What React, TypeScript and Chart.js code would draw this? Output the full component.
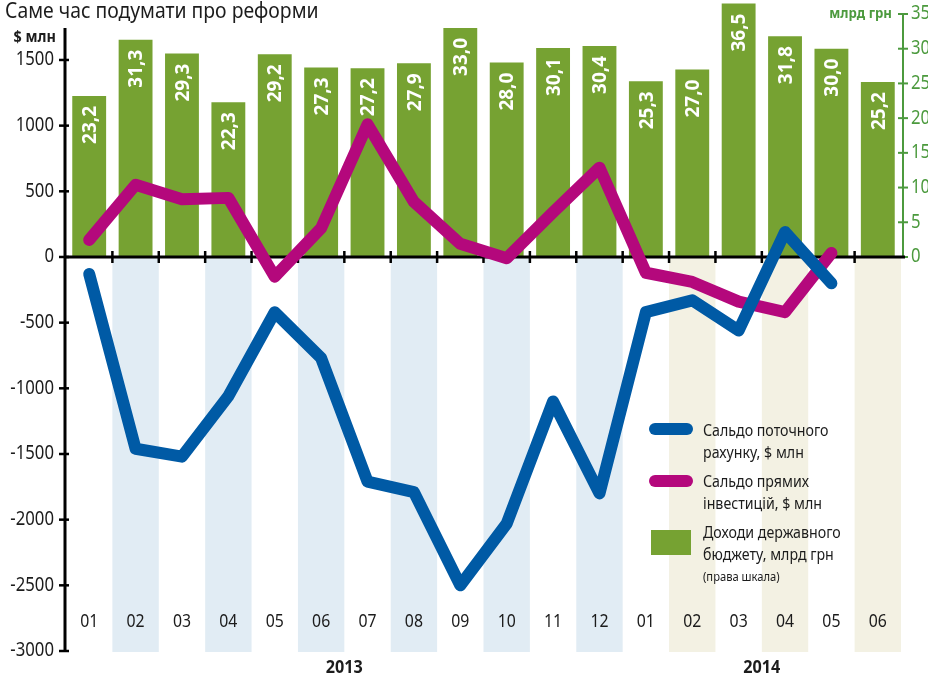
import React, { useEffect, useRef } from "react";
import { Chart, registerables } from "chart.js";
Chart.register(...registerables);

const months = ["01","02","03","04","05","06","07","08","09","10","11","12","01","02","03","04","05","06"];
const years = ["2013", "2014"];
const yearFirstIndex = [0, 12];
const yearLastIndex = [11, 17];
const budgetRevenue = [23.2, 31.3, 29.3, 22.3, 29.2, 27.3, 27.2, 27.9, 33.0, 28.0, 30.1, 30.4, 25.3, 27.0, 36.5, 31.8, 30.0, 25.2];
const currentAccount = [-130, -1460, -1520, -1060, -420, -770, -1710, -1790, -2500, -2030, -1100, -1800, -420, -330, -560, 190, -200, null];
const fdiBalance = [130, 550, 440, 450, -150, 220, 1010, 420, 100, -10, 340, 680, -120, -190, -340, -420, 30, null];
const leftTicks = [-3000, -2500, -2000, -1500, -1000, -500, 0, 500, 1000, 1500];
const rightTicks = [0, 5, 10, 15, 20, 25, 30, 35];
const blueBands = [1, 3, 5, 7, 9, 11];
const beigeBands = [13, 15, 17];

const LEFT_MIN = -3000;
const LEFT_MAX = 1850;
const RIGHT_MAX = 35;
const RIGHT_MIN = (LEFT_MIN * RIGHT_MAX) / LEFT_MAX;

const GREEN = "#76a232";
const BLUE = "#005aa5";
const MAGENTA = "#b4087c";
const AXIS_GREEN = "#4c9a3e";
const INK = "#1c1c1c";
const FONT = '"Noto Sans", "Open Sans", sans-serif';

function txt(ctx: CanvasRenderingContext2D, s: string, x: number, y: number, font: string, color: string, align: CanvasTextAlign, sx = 0.88) {
  ctx.save();
  ctx.font = font;
  ctx.fillStyle = color;
  ctx.textAlign = align;
  ctx.textBaseline = "middle";
  ctx.translate(x, y);
  ctx.scale(sx, 1);
  ctx.fillText(s, 0, 0);
  ctx.restore();
}

const decorPlugin = {
  id: "decor",
  beforeDatasetsDraw(chart: any) {
    const ctx: CanvasRenderingContext2D = chart.ctx;
    const x = chart.scales.x;
    const y = chart.scales.y;
    const area = chart.chartArea;
    const step = (area.right - area.left) / months.length;
    const y0 = y.getPixelForValue(0);
    ctx.save();
    const band = (idx: number[], color: string) => {
      ctx.fillStyle = color;
      idx.forEach((i) => {
        const cx = x.getPixelForValue(i);
        ctx.fillRect(cx - step / 2, y0, step, area.bottom + 1 - y0);
      });
    };
    band(blueBands, "#e1ecf4");
    band(beigeBands, "#f3f1e3");
    ctx.restore();
  },
  afterDatasetDraw(chart: any, args: any) {
    if (args.index !== 0) return;
    const ctx: CanvasRenderingContext2D = chart.ctx;
    const x = chart.scales.x;
    const y = chart.scales.y;
    const y1 = chart.scales.y1;
    const area = chart.chartArea;
    const step = (area.right - area.left) / months.length;
    const y0 = y.getPixelForValue(0);
    // bar value labels
    const meta = chart.getDatasetMeta(0);
    meta.data.forEach((bar: any, i: number) => {
      const v = budgetRevenue[i];
      const s = v.toFixed(1).replace(".", ",");
      ctx.save();
      ctx.translate(bar.x, bar.y + 10);
      ctx.rotate(-Math.PI / 2);
      ctx.font = `bold 20px ${FONT}`;
      ctx.fillStyle = "#ffffff";
      ctx.textAlign = "right";
      ctx.textBaseline = "middle";
      ctx.scale(0.95, 1);
      ctx.fillText(s, 0, 1);
      ctx.restore();
    });
    ctx.save();
    // left axis
    const lx = area.left - 1;
    ctx.strokeStyle = "#000";
    ctx.lineWidth = 3;
    ctx.beginPath();
    ctx.moveTo(lx, 28);
    ctx.lineTo(lx, area.bottom + 1);
    ctx.stroke();
    ctx.lineWidth = 2.5;
    leftTicks.forEach((t) => {
      const py = y.getPixelForValue(t);
      ctx.beginPath();
      ctx.moveTo(lx - 6, py);
      ctx.lineTo(lx + 4, py);
      ctx.stroke();
    });
    // right axis
    const rx = area.right + 2;
    ctx.strokeStyle = AXIS_GREEN;
    ctx.lineWidth = 2;
    ctx.beginPath();
    ctx.moveTo(rx, y1.getPixelForValue(RIGHT_MAX));
    ctx.lineTo(rx, y0);
    ctx.stroke();
    rightTicks.forEach((t) => {
      const py = y1.getPixelForValue(t);
      ctx.beginPath();
      ctx.moveTo(rx - 5, py);
      ctx.lineTo(rx + 5, py);
      ctx.stroke();
    });
    // zero line
    ctx.strokeStyle = "#000";
    ctx.lineWidth = 3;
    ctx.beginPath();
    ctx.moveTo(lx, y0);
    ctx.lineTo(rx + 2, y0);
    ctx.stroke();
    ctx.lineWidth = 2.5;
    for (let i = 1; i < months.length; i++) {
      const bx = x.getPixelForValue(i) - step / 2;
      ctx.beginPath();
      ctx.moveTo(bx, y0 - 6);
      ctx.lineTo(bx, y0 + 6);
      ctx.stroke();
    }
    ctx.restore();
  },
  afterDraw(chart: any) {
    const ctx: CanvasRenderingContext2D = chart.ctx;
    const x = chart.scales.x;
    const y = chart.scales.y;
    const y1 = chart.scales.y1;
    // title
    txt(ctx, "Саме час подумати про реформи", 5, 12, `22px ${FONT}`, INK, "left", 0.88);
    txt(ctx, "$ млн", 56, 37, `bold 16px ${FONT}`, INK, "right", 0.9);
    txt(ctx, "млрд грн", 892, 14, `bold 15px ${FONT}`, AXIS_GREEN, "right", 0.88);
    leftTicks.forEach((t) => {
      txt(ctx, String(t), 54, y.getPixelForValue(t), `19px ${FONT}`, INK, "right", 0.88);
    });
    rightTicks.forEach((t) => {
      txt(ctx, String(t), 911, y1.getPixelForValue(t), `19px ${FONT}`, AXIS_GREEN, "left", 0.88);
    });
    months.forEach((m, i) => {
      txt(ctx, m, x.getPixelForValue(i), 622, `18px ${FONT}`, INK, "center", 0.88);
    });
    years.forEach((yr, k) => {
      const cx = (x.getPixelForValue(yearFirstIndex[k]) + x.getPixelForValue(yearLastIndex[k])) / 2;
      txt(ctx, yr, cx, 668, `bold 18px ${FONT}`, INK, "center", 0.9);
    });
    // legend
    ctx.save();
    ctx.lineCap = "round";
    ctx.lineWidth = 12;
    ctx.strokeStyle = BLUE;
    ctx.beginPath();
    ctx.moveTo(655, 429);
    ctx.lineTo(687, 429);
    ctx.stroke();
    ctx.strokeStyle = MAGENTA;
    ctx.beginPath();
    ctx.moveTo(655, 481);
    ctx.lineTo(687, 481);
    ctx.stroke();
    ctx.fillStyle = GREEN;
    ctx.fillRect(651, 530, 40, 25);
    ctx.restore();
    const lf = `16.5px ${FONT}`;
    txt(ctx, "Сальдо поточного", 703, 431, lf, INK, "left", 0.86);
    txt(ctx, "рахунку, $ млн", 703, 453, lf, INK, "left", 0.86);
    txt(ctx, "Сальдо прямих", 703, 482, lf, INK, "left", 0.86);
    txt(ctx, "інвестицій, $ млн", 703, 504, lf, INK, "left", 0.86);
    txt(ctx, "Доходи державного", 703, 533, lf, INK, "left", 0.86);
    txt(ctx, "бюджету, млрд грн", 703, 555, lf, INK, "left", 0.86);
    txt(ctx, "(права шкала)", 703, 577, `13px ${FONT}`, INK, "left", 0.86);
  },
};

export default function App() {
  const ref = useRef<HTMLCanvasElement | null>(null);
  useEffect(() => {
    if (!ref.current) return;
    const chart = new Chart(ref.current, {
      type: "bar",
      data: {
        labels: months,
        datasets: [
          {
            type: "bar",
            label: "Доходи державного бюджету, млрд грн",
            data: budgetRevenue,
            backgroundColor: GREEN,
            yAxisID: "y1",
            barPercentage: 0.73,
            categoryPercentage: 1,
            order: 3,
            clip: false,
          } as any,
          {
            type: "line",
            label: "Сальдо прямих інвестицій, $ млн",
            data: fdiBalance,
            borderColor: MAGENTA,
            borderWidth: 12,
            borderCapStyle: "round",
            borderJoinStyle: "round",
            pointRadius: 0,
            tension: 0,
            yAxisID: "y",
            order: 2,
            clip: false,
          } as any,
          {
            type: "line",
            label: "Сальдо поточного рахунку, $ млн",
            data: currentAccount,
            borderColor: BLUE,
            borderWidth: 12,
            borderCapStyle: "round",
            borderJoinStyle: "round",
            pointRadius: 0,
            tension: 0,
            yAxisID: "y",
            order: 1,
            clip: false,
          } as any,
        ],
      },
      options: {
        animation: false,
        responsive: false,
        maintainAspectRatio: false,
        layout: { padding: { left: 66, right: 27, top: 14, bottom: 26 } },
        plugins: { legend: { display: false }, tooltip: { enabled: false } },
        scales: {
          x: { display: false, offset: true },
          y: { display: false, min: LEFT_MIN, max: LEFT_MAX },
          y1: { display: false, min: RIGHT_MIN, max: RIGHT_MAX, position: "right" },
        },
      } as any,
      plugins: [decorPlugin],
    });
    return () => chart.destroy();
  }, []);
  return (
    <div style={{ position: "fixed", left: 0, top: 0, width: 928, height: 677, background: "#fff" }}>
      <canvas ref={ref} width={928} height={677} style={{ display: "block", width: 928, height: 677 }} />
    </div>
  );
}
